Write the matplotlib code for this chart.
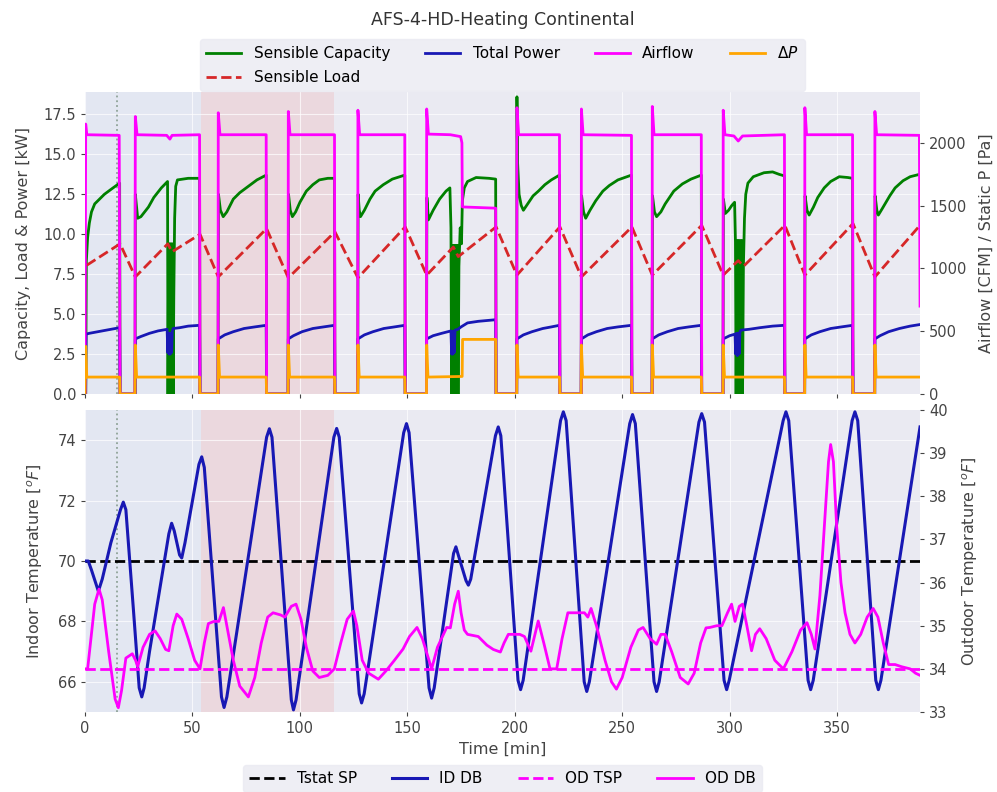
import matplotlib.pyplot as plt

# ---- top panel data (time [min], value) ----
airflow_t = [0.0, 0.3, 0.8, 15.9, 16.3, 23.2, 23.4, 24.2, 38.0, 39.5, 40.5, 53.3, 53.5,
             61.9, 62.0, 62.8, 84.3, 84.5, 94.5, 94.6, 95.4, 116.1, 116.3,
             126.9, 127.0, 127.8, 148.8, 149.0, 158.9, 159.0, 159.8, 170.0, 174.8, 175.4, 175.6, 191.1, 191.3,
             200.9, 201.0, 201.8, 220.8, 221.0, 230.9, 231.0, 231.8, 254.3, 254.5,
             263.9, 264.0, 264.8, 286.8, 287.0, 296.9, 297.0, 297.8, 302.0, 304.0, 306.0, 325.5, 325.7,
             334.9, 335.0, 335.8, 357.2, 357.4, 367.5, 367.6, 368.4, 388.3, 388.6]
airflow_v = [0, 2150, 2065, 2060, 0, 0, 2210, 2065, 2060, 2030, 2060, 2065, 0,
             0, 2240, 2065, 2065, 0, 0, 2250, 2065, 2065, 0,
             0, 2260, 2065, 2065, 0, 0, 2270, 2070, 2065, 2050, 2000, 1490, 1480, 0,
             0, 2280, 2065, 2065, 0, 0, 2270, 2065, 2060, 0,
             0, 2290, 2065, 2065, 0, 0, 2260, 2065, 2055, 2015, 2055, 2065, 0,
             0, 2280, 2065, 2065, 0, 0, 2250, 2065, 2060, 700]

dp_t = [0.0, 0.3, 0.8, 16.1, 16.3, 23.2, 23.4, 24.0, 53.3, 53.5,
        61.9, 62.0, 62.6, 84.3, 84.5, 94.5, 94.6, 95.2, 116.1, 116.3,
        126.9, 127.0, 127.6, 148.8, 149.0, 158.9, 159.0, 159.6, 175.5, 175.7, 191.1, 191.3,
        200.9, 201.0, 201.6, 220.8, 221.0, 230.9, 231.0, 231.6, 254.3, 254.5,
        263.9, 264.0, 264.6, 286.8, 287.0, 296.9, 297.0, 297.6, 325.5, 325.7,
        334.9, 335.0, 335.6, 357.2, 357.4, 367.5, 367.6, 368.2, 388.6]
dp_v = [0, 380, 135, 135, 0, 0, 390, 135, 135, 0,
        0, 390, 135, 135, 0, 0, 390, 135, 135, 0,
        0, 390, 135, 135, 0, 0, 390, 135, 140, 435, 435, 0,
        0, 390, 135, 135, 0, 0, 390, 135, 135, 0,
        0, 390, 135, 135, 0, 0, 390, 135, 135, 0,
        0, 390, 135, 135, 0, 0, 390, 135, 135]

cap_t = [0.3, 0.6, 1.2, 2.0, 3.0, 4.5, 6.0, 9.0, 12.0, 16.1, 16.3,
         23.3, 23.4, 24.5, 26.0, 29.5, 32.0, 35.5, 38.4, 38.6, 38.9, 39.2, 39.5, 39.8, 40.1, 40.4, 40.7, 41.0,
         41.3, 41.7, 42.2, 43.0, 48.0, 53.3, 53.5,
         61.9, 62.1, 63.0, 64.3, 66.0, 69.0, 72.0, 75.0, 80.0, 84.3, 84.5,
         94.5, 94.7, 95.5, 96.5, 98.0, 100.0, 103.0, 106.0, 109.0, 113.0, 116.1, 116.3,
         126.9, 127.1, 127.6, 128.2, 130.0, 132.6, 135.0, 138.8, 143.0, 148.8, 149.0,
         158.9, 159.1, 159.8, 162.0, 165.0, 168.0, 169.8, 170.3, 170.6, 170.9, 171.2, 171.5, 171.8, 172.1,
         172.4, 172.7, 173.0, 173.3, 173.6, 174.0, 174.6, 175.2, 175.6, 176.5, 178.0, 182.0, 188.0, 191.1, 191.3,
         200.9, 201.0, 201.3, 202.0, 203.0, 204.0, 206.0, 208.5, 211.0, 214.0, 217.0, 220.8, 221.0,
         230.9, 231.1, 232.0, 233.0, 235.0, 237.7, 241.0, 244.0, 248.0, 254.3, 254.5,
         263.9, 264.1, 265.0, 266.0, 268.0, 270.0, 274.0, 278.0, 282.0, 286.8, 287.0,
         296.9, 297.1, 298.0, 299.5, 301.0, 302.3, 302.7, 303.0, 303.3, 303.6, 303.9, 304.2, 304.5, 304.8,
         305.1, 305.4, 305.7, 306.0, 306.4, 306.9, 307.5, 308.5, 311.0, 316.0, 320.0, 323.0, 325.5, 325.7,
         334.9, 335.1, 336.0, 337.0, 339.0, 341.0, 344.0, 347.0, 351.0, 355.0, 357.2, 357.4,
         367.5, 367.7, 368.5, 369.2, 371.0, 374.5, 377.0, 380.7, 384.0, 388.4]
cap_v = [0, 8.3, 9.8, 10.7, 11.4, 11.9, 12.1, 12.5, 12.8, 13.2, 0,
         0, 12.5, 11.0, 11.1, 11.7, 12.3, 12.9, 13.3, 0, 9.4, 0, 9.4, 0, 9.4, 0, 9.4, 0,
         6.0, 11.0, 13.0, 13.4, 13.5, 13.5, 0,
         0, 12.5, 11.5, 11.1, 11.4, 12.2, 12.6, 12.9, 13.4, 13.7, 0,
         0, 12.5, 11.5, 11.1, 11.4, 12.0, 12.7, 13.1, 13.4, 13.5, 13.5, 0,
         0, 12.5, 11.5, 11.1, 11.5, 12.2, 12.7, 13.1, 13.45, 13.7, 0,
         0, 12.3, 10.9, 11.5, 12.2, 12.7, 12.9, 10.4, 0, 9.3, 0, 9.3, 0, 9.3,
         0, 9.3, 0, 9.3, 0, 8.0, 10.4, 9.4, 12.1, 12.9, 13.3, 13.55, 13.5, 13.45, 0,
         0, 18.6, 14.5, 12.5, 11.8, 11.5, 11.9, 12.4, 12.7, 13.1, 13.4, 13.7, 0,
         0, 12.4, 11.4, 11.0, 11.5, 12.1, 12.7, 13.05, 13.4, 13.7, 0,
         0, 12.4, 11.4, 11.1, 11.4, 11.9, 12.7, 13.15, 13.45, 13.7, 0,
         0, 12.2, 11.3, 11.5, 11.8, 12.0, 9.5, 0, 9.6, 0, 9.6, 0, 9.6, 0,
         9.6, 0, 9.6, 0, 8.0, 11.0, 12.5, 13.2, 13.6, 13.85, 13.9, 13.75, 13.65, 0,
         0, 12.4, 11.5, 11.2, 11.7, 12.3, 12.9, 13.3, 13.6, 13.55, 13.5, 0,
         0, 12.4, 11.5, 11.2, 11.6, 12.4, 12.9, 13.35, 13.6, 13.75]

power_t = [0.3, 0.5, 2.0, 6.0, 10.0, 16.1, 16.3,
           23.3, 23.4, 26.0, 30.0, 34.0, 38.2, 38.5, 38.8, 39.1, 39.4, 39.7, 40.0, 40.3, 40.6, 41.0,
           44.0, 48.0, 53.3, 53.5,
           61.9, 62.0, 65.0, 69.0, 74.0, 79.0, 84.3, 84.5,
           94.5, 94.6, 97.0, 101.0, 106.0, 111.0, 116.1, 116.3,
           126.9, 127.0, 130.0, 134.0, 139.0, 144.0, 148.8, 149.0,
           158.9, 159.0, 162.0, 166.0, 170.3, 170.6, 170.9, 171.2, 171.5, 171.8, 172.2, 173.5, 175.0,
           178.0, 183.0, 191.1, 191.3,
           200.9, 201.0, 204.0, 208.0, 213.0, 217.0, 220.8, 221.0,
           230.9, 231.0, 234.0, 238.0, 243.0, 248.0, 254.3, 254.5,
           263.9, 264.0, 267.0, 271.0, 276.0, 281.0, 286.8, 287.0,
           296.9, 297.0, 300.0, 302.5, 302.8, 303.2, 303.6, 304.0, 304.4, 304.8, 305.3, 309.0, 314.0,
           320.0, 325.5, 325.7,
           334.9, 335.0, 338.0, 342.0, 347.0, 352.0, 357.2, 357.4,
           367.5, 367.6, 370.0, 374.0, 379.0, 384.0, 388.6]
power_v = [0, 3.75, 3.8, 3.9, 4.0, 4.15, 0,
           0, 3.45, 3.6, 3.8, 3.95, 4.05, 2.6, 3.8, 2.5, 3.8, 2.5, 3.8, 2.6, 3.9, 4.1,
           4.15, 4.25, 4.3, 0,
           0, 3.45, 3.7, 3.9, 4.1, 4.2, 4.3, 0,
           0, 3.45, 3.65, 3.9, 4.1, 4.2, 4.3, 0,
           0, 3.45, 3.7, 3.9, 4.1, 4.2, 4.3, 0,
           0, 3.45, 3.65, 3.8, 3.95, 2.5, 3.9, 2.5, 3.9, 2.6, 4.0, 4.05, 4.2,
           4.45, 4.55, 4.65, 0,
           0, 3.45, 3.7, 3.9, 4.1, 4.2, 4.3, 0,
           0, 3.45, 3.7, 3.9, 4.1, 4.2, 4.3, 0,
           0, 3.45, 3.7, 3.9, 4.1, 4.2, 4.3, 0,
           0, 3.45, 3.65, 3.75, 2.5, 3.8, 2.4, 3.8, 2.5, 3.9, 4.0, 4.05, 4.15,
           4.25, 4.3, 0,
           0, 3.45, 3.7, 3.9, 4.1, 4.2, 4.3, 0,
           0, 3.45, 3.65, 3.9, 4.1, 4.25, 4.35]

load_t = [0.8, 16.3, 23.4, 38.5, 40.5, 53.5, 62.0, 84.5, 94.6, 116.3, 127.0, 149.0, 159.0,
          171.4, 173.7, 191.3, 201.0, 221.0, 231.0, 254.5, 264.0, 287.0, 297.0, 304.0, 306.5,
          325.7, 335.0, 357.4, 367.6, 388.6]
load_v = [8.06, 9.4, 7.33, 9.4, 8.9, 10.0, 7.33, 10.35, 7.27, 10.15, 7.27, 10.46, 7.44,
          9.2, 8.6, 10.46, 7.44, 10.46, 7.33, 10.46, 7.44, 10.56, 7.44, 8.35, 8.0,
          10.56, 7.44, 10.67, 7.33, 10.56]

# ---- bottom panel data ----
id_t = [0.0, 1.5, 3.0, 6.2, 8.0, 12.0, 16.5, 17.8, 19.0, 22.5, 25.2, 26.4, 27.5, 30.0, 39.0, 40.3,
        41.5, 44.0, 45.0, 46.5, 53.0, 54.3, 55.5, 63.5, 64.7, 66.0, 84.5, 85.8, 87.0, 96.0, 97.0, 98.2,
        115.8, 117.1, 118.3, 127.6, 128.7, 129.9, 148.3, 149.6, 150.8, 160.1, 161.3, 162.5,
        171.5, 172.6, 173.7, 177.3, 178.4, 179.5, 191.0, 192.3, 193.5, 201.5, 202.7, 203.9,
        221.3, 222.6, 223.9, 232.3, 233.5, 234.7, 253.5, 254.8, 256.1, 264.8, 266.0, 267.2,
        285.7, 287.0, 288.3, 297.4, 298.6, 299.8, 324.9, 326.2, 327.5, 336.5, 337.7, 338.9,
        357.0, 358.3, 359.6, 368.0, 369.2, 370.4, 388.6]
id_db = [70.0, 70.0, 69.7, 69.0, 69.4, 70.6, 71.7, 71.95, 71.7, 68.4, 65.8, 65.5, 65.8, 67.0, 70.9, 71.25,
         71.0, 70.2, 70.1, 70.6, 73.2, 73.45, 73.1, 65.5, 65.15, 65.5, 74.1, 74.38, 74.1, 65.4, 65.07, 65.4,
         74.1, 74.39, 74.1, 65.6, 65.3, 65.6, 74.25, 74.55, 74.25, 65.8, 65.46, 65.8,
         70.25, 70.47, 70.2, 69.35, 69.2, 69.4, 74.15, 74.44, 74.15, 66.05, 65.74, 66.05,
         74.65, 74.94, 74.65, 66.0, 65.68, 66.0, 74.55, 74.85, 74.55, 66.0, 65.68, 66.0,
         74.6, 74.88, 74.6, 66.05, 65.74, 66.05, 74.65, 74.94, 74.65, 66.05, 65.74, 66.05,
         74.65, 74.94, 74.65, 66.05, 65.74, 66.05, 74.44]

od_t = [0.0, 1.2, 2.5, 4.5, 6.5, 8.0, 11.0, 14.0, 15.5, 17.0, 19.0, 22.0, 23.5, 24.5, 27.0, 30.0,
        32.6, 35.0, 37.5, 39.0, 41.0, 42.7, 45.0, 48.0, 51.0, 53.5, 55.5, 57.4, 60.0, 62.3, 64.4,
        66.0, 69.0, 72.0, 76.0, 79.0, 82.0, 85.0, 87.5, 91.0, 93.0, 96.0, 98.2, 100.5, 103.0, 106.0,
        109.0, 113.0, 116.0, 119.0, 122.0, 124.9, 126.5, 129.0, 132.0, 136.5, 140.0, 144.0, 148.0,
        151.0, 154.5, 157.0, 161.3, 164.0, 168.3, 170.0, 172.0, 173.7, 175.0, 176.5, 178.0, 183.0,
        187.0, 190.0, 193.3, 195.0, 197.0, 202.3, 204.5, 207.5, 210.9, 213.5, 216.4, 219.5, 222.0,
        224.7, 232.4, 234.0, 235.5, 238.0, 242.0, 245.0, 247.3, 250.0, 254.0, 257.5, 259.7, 263.0,
        266.0, 268.0, 270.0, 273.0, 277.0, 280.7, 283.5, 286.5, 289.0, 290.8, 294.0, 296.4, 299.0,
        300.9, 302.5, 304.5, 306.0, 308.0, 310.2, 312.0, 314.0, 317.0, 321.0, 325.0, 329.0, 333.0,
        336.0, 338.0, 339.7, 342.0, 344.3, 346.0, 347.0, 348.3, 349.8, 351.8, 353.7, 356.0, 358.3,
        361.0, 364.0, 366.8, 369.0, 371.5, 374.0, 377.0, 380.0, 384.0, 386.5, 388.6]
od_db = [34.0, 34.0, 34.6, 35.5, 35.85, 35.6, 34.4, 33.3, 33.1, 33.5, 34.25, 34.35, 34.2, 34.05, 34.5, 34.8,
         34.88, 34.7, 34.45, 34.42, 35.0, 35.27, 35.15, 34.7, 34.2, 34.0, 34.6, 35.05, 35.1, 35.1, 35.42,
         35.0, 34.2, 33.6, 33.35, 33.8, 34.6, 35.2, 35.3, 35.25, 35.2, 35.45, 35.5, 35.15, 34.5, 33.95,
         33.8, 33.85, 34.0, 34.6, 35.15, 35.34, 35.0, 34.2, 33.9, 33.76, 33.95, 34.2, 34.46,
         34.75, 34.96, 34.7, 34.0, 34.5, 34.96, 34.95, 35.5, 35.8, 35.3, 34.9, 34.8, 34.75,
         34.55, 34.45, 34.39, 34.6, 34.8, 34.8, 34.75, 34.41, 35.11, 34.6, 34.0, 34.0, 34.7,
         35.3, 35.3, 35.2, 35.4, 35.0, 34.2, 33.7, 33.53, 33.8, 34.5, 34.9, 34.96, 34.7,
         34.57, 34.8, 34.8, 34.4, 33.8, 33.65, 33.9, 34.6, 34.95, 34.96, 35.0, 35.0, 35.3,
         35.5, 35.1, 35.45, 35.5, 35.0, 34.42, 34.8, 34.93, 34.7, 34.2, 34.0, 34.4, 34.9,
         35.07, 34.8, 34.46, 35.7, 37.5, 38.8, 39.2, 38.8, 37.3, 36.0, 35.3, 34.8, 34.6,
         34.8, 35.2, 35.4, 35.2, 34.6, 34.1, 34.1, 34.05, 34.0, 33.9, 33.85]

tstat_sp = 70.0
od_tsp = 34.0
t_end = 388.6
init_window = (0, 54)
test_window = (54, 116)
mark_t = 15

bg = '#EAEAF2'
txt = '#444444'
blue = '#1818b4'
plt.rcParams.update({
    'axes.facecolor': bg,
    'axes.edgecolor': bg,
    'axes.labelcolor': txt,
    'xtick.color': txt,
    'ytick.color': txt,
    'xtick.labelsize': 10.5,
    'ytick.labelsize': 10.5,
    'axes.labelsize': 11.5,
    'legend.fontsize': 11,
    'grid.color': 'white',
    'xtick.major.size': 3,
    'ytick.major.size': 3,
})

fig = plt.figure(figsize=(9.97, 7.92), dpi=100)
ax1 = fig.add_axes([0.0853, 0.5025, 0.8375, 0.3813])
ax2 = fig.add_axes([0.0853, 0.1010, 0.8375, 0.3813], sharex=ax1)

for ax in (ax1, ax2):
    ax.axvspan(*init_window, color='#c9dcf3', alpha=0.2, lw=0)
    ax.axvspan(*test_window, color='lightcoral', alpha=0.17, lw=0)
    ax.axvline(mark_t, color='#8fa398', ls=':', lw=1.3)
    ax.grid(True, color='white', lw=0.8, alpha=0.7)
    for s in ax.spines.values():
        s.set_visible(False)

# top panel
l_cap, = ax1.plot(cap_t, cap_v, color='green', lw=2, label='Sensible Capacity')
l_load, = ax1.plot(load_t, load_v, color='tab:red', ls='--', lw=2, label='Sensible Load')
l_pow, = ax1.plot(power_t, power_v, color=blue, lw=2, label='Total Power')
ax1.set_ylim(0, 18.9)
ax1.set_ylabel('Capacity, Load & Power [kW]', labelpad=9)
ax1.tick_params(labelbottom=False)

ax1r = ax1.twinx()
l_air, = ax1r.plot(airflow_t, airflow_v, color='magenta', lw=2, label='Airflow')
l_dp, = ax1r.plot(dp_t, dp_v, color='orange', lw=2, label=r'$\Delta P$')
ax1r.set_ylim(0, 2405)
ax1r.set_ylabel('Airflow [CFM] / Static P [Pa]', labelpad=9)
for s in ax1r.spines.values():
    s.set_visible(False)

ax1.legend([l_cap, l_load, l_pow, l_air, l_dp],
           ['Sensible Capacity', 'Sensible Load', 'Total Power', 'Airflow', r'$\Delta P$'],
           ncol=4, loc='lower center', bbox_to_anchor=(0.5, 1.0), borderaxespad=0.05,
           facecolor=bg, edgecolor=bg, framealpha=0.8, columnspacing=2.3, handlelength=2.3,
           labelspacing=0.6)
ax1.set_title('AFS-4-HD-Heating Continental', fontsize=12.5, color='#333333', pad=48)

# bottom panel
l_sp = ax2.axhline(tstat_sp, color='black', ls='--', lw=2, label='Tstat SP')
l_id, = ax2.plot(id_t, id_db, color=blue, lw=2.2, label='ID DB')
ax2.set_ylim(65, 75)
ax2.set_ylabel(r'Indoor Temperature [$^oF$]', labelpad=9)
ax2.set_xlabel('Time [min]')
ax2.set_xlim(0, t_end)

ax2r = ax2.twinx()
l_tsp = ax2r.axhline(od_tsp, color='magenta', ls='--', lw=2, label='OD TSP')
l_od, = ax2r.plot(od_t, od_db, color='magenta', lw=2, label='OD DB')
ax2r.set_ylim(33, 40)
ax2r.set_ylabel(r'Outdoor Temperature [$^oF$]', labelpad=9)
for s in ax2r.spines.values():
    s.set_visible(False)

ax2.legend([l_sp, l_id, l_tsp, l_od], ['Tstat SP', 'ID DB', 'OD TSP', 'OD DB'],
           ncol=4, loc='upper center', bbox_to_anchor=(0.5, -0.175), borderaxespad=0,
           facecolor=bg, edgecolor=bg, framealpha=0.8, columnspacing=2.3, handlelength=2.3)

fig.savefig('out.png', dpi=100)
